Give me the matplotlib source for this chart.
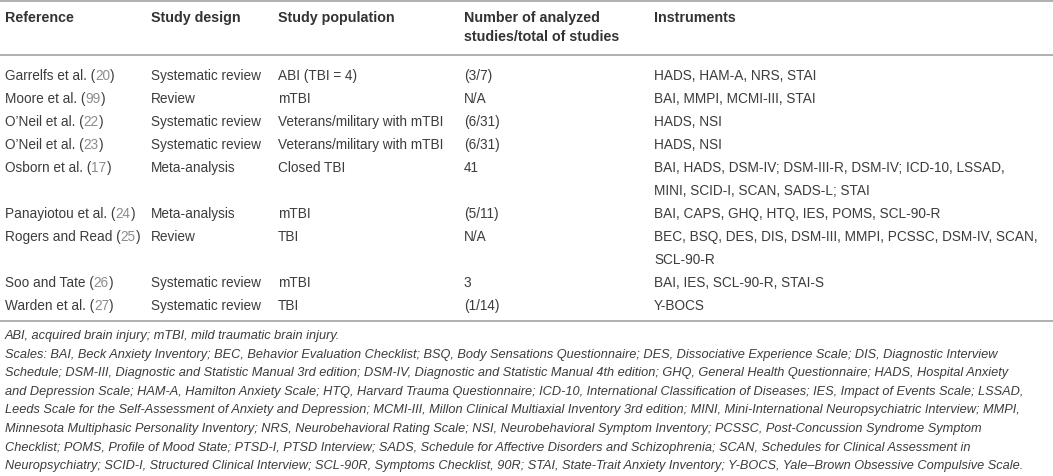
import matplotlib
matplotlib.use("Agg")
import matplotlib.pyplot as plt

# ---------------- data ----------------
headers = ["Reference", "Study design", "Study population",
           "Number of analyzed\nstudies/total of studies", "Instruments"]
authors = ["Garrelfs et al.", "Moore et al.", "O\u2019Neil et al.", "O\u2019Neil et al.",
           "Osborn et al.", "Panayiotou et al.", "Rogers and Read", "Soo and Tate",
           "Warden et al."]
citations = ["20", "99", "22", "23", "17", "24", "25", "26", "27"]
designs = ["Systematic review", "Review", "Systematic review", "Systematic review",
           "Meta-analysis", "Meta-analysis", "Review", "Systematic review",
           "Systematic review"]
populations = ["ABI (TBI = 4)", "mTBI", "Veterans/military with mTBI",
               "Veterans/military with mTBI", "Closed TBI", "mTBI", "TBI", "mTBI", "TBI"]
n_studies = ["(3/7)", "N/A", "(6/31)", "(6/31)", "41", "(5/11)", "N/A", "3", "(1/14)"]
instruments = [
    "HADS, HAM-A, NRS, STAI",
    "BAI, MMPI, MCMI-III, STAI",
    "HADS, NSI",
    "HADS, NSI",
    "BAI, HADS, DSM-IV; DSM-III-R, DSM-IV; ICD-10, LSSAD,\nMINI, SCID-I, SCAN, SADS-L; STAI",
    "BAI, CAPS, GHQ, HTQ, IES, POMS, SCL-90-R",
    "BEC, BSQ, DES, DIS, DSM-III, MMPI, PCSSC, DSM-IV, SCAN,\nSCL-90-R",
    "BAI, IES, SCL-90-R, STAI-S",
    "Y-BOCS",
]
footnotes = [
    "ABI, acquired brain injury; mTBI, mild traumatic brain injury.",
    "Scales: BAI, Beck Anxiety Inventory; BEC, Behavior Evaluation Checklist; BSQ, Body Sensations Questionnaire; DES, Dissociative Experience Scale; DIS, Diagnostic Interview",
    "Schedule; DSM-III, Diagnostic and Statistic Manual 3rd edition; DSM-IV, Diagnostic and Statistic Manual 4th edition; GHQ, General Health Questionnaire; HADS, Hospital Anxiety",
    "and Depression Scale; HAM-A, Hamilton Anxiety Scale; HTQ, Harvard Trauma Questionnaire; ICD-10, International Classification of Diseases; IES, Impact of Events Scale; LSSAD,",
    "Leeds Scale for the Self-Assessment of Anxiety and Depression; MCMI-III, Millon Clinical Multiaxial Inventory 3rd edition; MINI, Mini-International Neuropsychiatric Interview; MMPI,",
    "Minnesota Multiphasic Personality Inventory; NRS, Neurobehavioral Rating Scale; NSI, Neurobehavioral Symptom Inventory; PCSSC, Post-Concussion Syndrome Symptom",
    "Checklist; POMS, Profile of Mood State; PTSD-I, PTSD Interview; SADS, Schedule for Affective Disorders and Schizophrenia; SCAN, Schedules for Clinical Assessment in",
    "Neuropsychiatry; SCID-I, Structured Clinical Interview; SCL-90R, Symptoms Checklist, 90R; STAI, State-Trait Anxiety Inventory; Y-BOCS, Yale\u2013Brown Obsessive Compulsive Scale.",
]

# ---------------- layout ----------------
W, H = 1053, 476
col_x = [5, 151, 278, 464, 654]
TEXT = "#3c3c3c"
CITE = "#8c8c8c"
RULE = "#9a9a9a"
FAM = "Liberation Sans"
FS = 9.8
FS_HEAD = 10.3
FS_FOOT = 9.2

fig = plt.figure(figsize=(W / 100, H / 100), dpi=100)
ax = fig.add_axes([0, 0, 1, 1])
ax.set_xlim(0, W)
ax.set_ylim(H, 0)
ax.axis("off")
renderer = fig.canvas.get_renderer()


def rule(y):
    ax.plot([0, W], [y, y], color=RULE, lw=1.1, solid_capstyle="butt")


def put(x, y, s, **kw):
    kw.setdefault("color", TEXT)
    kw.setdefault("fontsize", FS)
    kw.setdefault("family", FAM)
    return ax.text(x, y, s, va="center", ha="left", **kw)


def put_parts(x, y, parts):
    for s, c in parts:
        t = put(x, y, s, color=c)
        bb = t.get_window_extent(renderer)
        x += bb.width


rule(1)
# header
head_y1, head_step = 18, 19
for x, h in zip(col_x, headers):
    for k, line in enumerate(h.split("\n")):
        put(x, head_y1 + k * head_step, line, fontweight="bold", fontsize=FS_HEAD,
            color="#333333")
rule(55)

row_y0, row_step = 76, 23
y = row_y0
for i in range(len(authors)):
    put_parts(col_x[0], y, [(authors[i] + " (", TEXT), (citations[i], CITE), (")", TEXT)])
    cells = [designs[i], populations[i], n_studies[i], instruments[i]]
    nlines = 1
    for x, c in zip(col_x[1:], cells):
        lines = c.split("\n")
        nlines = max(nlines, len(lines))
        for k, line in enumerate(lines):
            put(x, y + k * row_step, line)
    y += nlines * row_step

rule(321)

foot_y0, foot_step = 336, 18.6
for k, line in enumerate(footnotes):
    put(5, foot_y0 + k * foot_step, line, style="italic", fontsize=FS_FOOT)

fig.savefig("out.png", dpi=100)
